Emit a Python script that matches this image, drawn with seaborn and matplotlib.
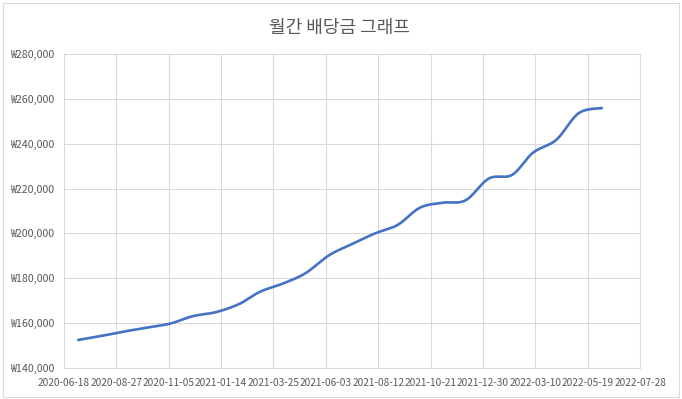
import numpy as np
import pandas as pd
import matplotlib
matplotlib.use("Agg")
import matplotlib.pyplot as plt
import matplotlib.dates as mdates
from matplotlib.patches import Rectangle
import seaborn as sns


# monthly dividend data
months = [
    "2020-07-07", "2020-08-07", "2020-09-07", "2020-10-07", "2020-11-07", "2020-12-07",
    "2021-01-07", "2021-02-07", "2021-03-07", "2021-04-07", "2021-05-07", "2021-06-07",
    "2021-07-07", "2021-08-07", "2021-09-07", "2021-10-07", "2021-11-07", "2021-12-07",
    "2022-01-07", "2022-02-07", "2022-03-07", "2022-04-07", "2022-05-07", "2022-06-07",
]
dividends = [
    152500, 154300, 156300, 158000, 159800, 163100,
    164900, 168500, 174000, 177700, 182300, 190200,
    195100, 199900, 203800, 211500, 213700, 214800,
    224500, 226100, 236000, 241700, 253600, 255900,
]

x_start = "2020-06-18"
x_end = "2022-07-28"
tick_step_days = 70
y_ticks = [140000, 160000, 180000, 200000, 220000, 240000, 260000, 280000]

title = "월간 배당금 그래프"


# Excel-like smoothed line (bezier through every point)
def smooth_line(xs, ys, n=30):
    pts = np.column_stack([xs, ys]).astype(float)
    padded = np.vstack([pts[0], pts, pts[-1]])
    out = []
    t = np.linspace(0, 1, n)[:, None]
    for i in range(len(pts) - 1):
        p0 = padded[i + 1]
        p3 = padded[i + 2]
        c1 = p0 + (padded[i + 2] - padded[i]) / 6
        c2 = p3 - (padded[i + 3] - padded[i + 1]) / 6
        seg = ((1 - t) ** 3) * p0 + 3 * ((1 - t) ** 2) * t * c1 + 3 * (1 - t) * t ** 2 * c2 + t ** 3 * p3
        out.append(seg if i == 0 else seg[1:])
    out = np.vstack(out)
    return out[:, 0], out[:, 1]


def main():
    sns.set_style("white")
    plt.rcParams["font.family"] = ["Noto Sans CJK KR", "DejaVu Sans"]

    grid_color = "#D9D9D9"
    text_color = "#595959"

    xnum = mdates.date2num(pd.to_datetime(months))
    sx, sy = smooth_line(xnum, dividends)
    df = pd.DataFrame({"date": sx, "value": sy})

    fig = plt.figure(figsize=(6.82, 3.99), dpi=100)
    ax = fig.add_axes([64 / 682, 31 / 399, 576 / 682, 314 / 399])

    sns.lineplot(data=df, x="date", y="value", ax=ax, color="#4472C4",
                 linewidth=1.9, sort=False, estimator=None)

    x0 = mdates.date2num(pd.Timestamp(x_start))
    x1 = mdates.date2num(pd.Timestamp(x_end))
    ax.set_xlim(x0, x1)
    ax.set_xticks(np.arange(x0, x1 + 1, tick_step_days))
    ax.xaxis.set_major_formatter(mdates.DateFormatter("%Y-%m-%d"))

    ax.set_ylim(y_ticks[0], y_ticks[-1])
    ax.set_yticks(y_ticks)
    ax.set_yticklabels(["₩{:,}".format(v) for v in y_ticks])

    ax.grid(True, color=grid_color, linewidth=0.75)
    ax.set_axisbelow(True)
    for sp in ax.spines.values():
        sp.set_color(grid_color)
        sp.set_linewidth(0.75)

    ax.tick_params(axis="x", length=0, pad=7, labelsize=7.25, labelcolor=text_color)
    ax.tick_params(axis="y", length=0, pad=7, labelsize=7.7, labelcolor=text_color)
    ax.set_xlabel("")
    ax.set_ylabel("")

    fig.text(0.4985, 0.93, title, ha="center", va="center", fontsize=13, color=text_color)

    # chart border
    fig.patches.append(Rectangle((3 / 682, 2 / 399), 676 / 682, 394 / 399,
                                 transform=fig.transFigure, fill=False,
                                 edgecolor=grid_color, linewidth=0.75))

    fig.savefig("out.png", dpi=100)
    plt.close(fig)


if __name__ == "__main__":
    main()
